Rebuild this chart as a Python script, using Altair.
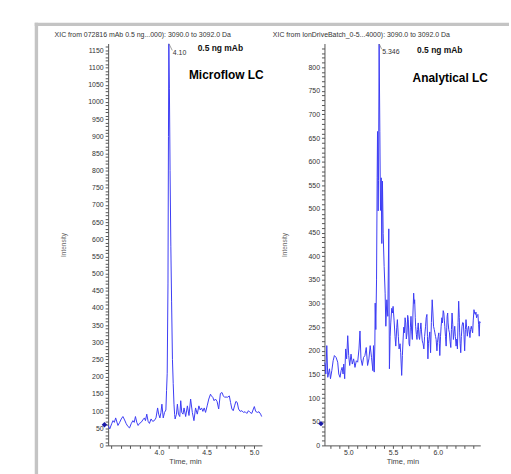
import altair as alt
import pandas as pd

FONT = "Liberation Sans"
LINE = "#3c3cf4"

# ---------------- data ----------------
left_time = [3.466, 3.483, 3.503, 3.517, 3.531, 3.545, 3.569, 3.587, 3.604, 3.621,
             3.639, 3.656, 3.674, 3.691, 3.708, 3.726, 3.740, 3.753, 3.767, 3.781,
             3.795, 3.813, 3.830, 3.847, 3.858, 3.872, 3.886, 3.900, 3.917, 3.934,
             3.951, 3.969, 3.986, 3.997, 4.010, 4.021, 4.031, 4.045, 4.059, 4.073,
             4.080, 4.087, 4.095, 4.100, 4.104, 4.110, 4.117, 4.125, 4.133, 4.142,
             4.150, 4.158, 4.165, 4.170, 4.184, 4.194, 4.205, 4.219, 4.229, 4.240,
             4.253, 4.264, 4.281, 4.299, 4.316, 4.333, 4.351, 4.368, 4.385, 4.403,
             4.420, 4.434, 4.448, 4.462, 4.476, 4.490, 4.507, 4.524, 4.542, 4.552,
             4.566, 4.580, 4.594, 4.611, 4.628, 4.646, 4.663, 4.677, 4.691, 4.705,
             4.719, 4.740, 4.753, 4.767, 4.781, 4.795, 4.809, 4.823, 4.837, 4.854,
             4.872, 4.889, 4.906, 4.924, 4.941, 4.958, 4.976, 4.993, 5.003, 5.017,
             5.035, 5.052, 5.069, 5.080]
left_intensity = [58, 48, 63, 72, 67, 80, 58, 67, 77, 84,
                  74, 63, 55, 51, 63, 72, 67, 84, 67, 58,
                  64, 67, 74, 80, 72, 91, 70, 64, 77, 70,
                  72, 80, 109, 91, 80, 96, 120, 80, 96, 103,
                  160, 210, 470, 900, 1169, 1040, 800, 580, 420, 250,
                  180, 120, 90, 77, 91, 120, 91, 84, 130, 96,
                  91, 109, 84, 115, 87, 135, 96, 72, 109, 91,
                  115, 103, 109, 99, 109, 96, 115, 135, 149, 144,
                  140, 130, 135, 128, 106, 151, 154, 144, 140, 141,
                  140, 144, 125, 106, 101, 115, 128, 125, 106, 99,
                  101, 96, 98, 93, 101, 96, 93, 106, 113, 99,
                  96, 98, 91, 84]

right_time = [4.733, 4.741, 4.748, 4.759, 4.770, 4.789, 4.800, 4.815, 4.830, 4.844,
              4.863, 4.881, 4.893, 4.907, 4.919, 4.930, 4.941, 4.948, 4.959, 4.970,
              4.981, 4.993, 5.004, 5.015, 5.030, 5.044, 5.059, 5.074, 5.089, 5.104,
              5.119, 5.130, 5.141, 5.156, 5.170, 5.185, 5.200, 5.215, 5.230, 5.244,
              5.259, 5.274, 5.281, 5.289, 5.296, 5.300, 5.307, 5.315, 5.322, 5.326,
              5.333, 5.337, 5.344, 5.352, 5.359, 5.367, 5.374, 5.381, 5.389, 5.400,
              5.411, 5.419, 5.430, 5.441, 5.452, 5.459, 5.467, 5.474, 5.485, 5.493,
              5.500, 5.511, 5.522, 5.530, 5.541, 5.548, 5.559, 5.567, 5.578, 5.585,
              5.596, 5.604, 5.611, 5.619, 5.626, 5.634, 5.641, 5.648, 5.656, 5.663,
              5.670, 5.678, 5.685, 5.693, 5.700, 5.708, 5.715, 5.722, 5.730, 5.736,
              5.741, 5.748, 5.752, 5.760, 5.767, 5.774, 5.781, 5.789, 5.796, 5.804,
              5.811, 5.818, 5.826, 5.835, 5.844, 5.852, 5.863, 5.870, 5.878, 5.884,
              5.889, 5.895, 5.900, 5.910, 5.919, 5.928, 5.937, 5.945, 5.952, 5.960,
              5.967, 5.975, 5.981, 5.990, 5.996, 6.004, 6.011, 6.017, 6.022, 6.030,
              6.037, 6.045, 6.052, 6.060, 6.067, 6.073, 6.078, 6.086, 6.093, 6.100,
              6.104, 6.110, 6.115, 6.122, 6.130, 6.137, 6.145, 6.152, 6.159, 6.167,
              6.174, 6.182, 6.189, 6.196, 6.204, 6.212, 6.219, 6.226, 6.233, 6.240,
              6.244, 6.250, 6.256, 6.263, 6.270, 6.278, 6.285, 6.292, 6.300, 6.308,
              6.315, 6.322, 6.330, 6.337, 6.344, 6.352, 6.359, 6.366, 6.374, 6.381,
              6.389, 6.396, 6.404, 6.411, 6.419, 6.426, 6.433, 6.441, 6.448, 6.456,
              6.463, 6.468, 6.474]
right_intensity = [175, 172, 151, 211, 144, 162, 141, 158, 179, 190,
                   186, 176, 151, 144, 158, 165, 151, 172, 141, 204,
                   183, 232, 190, 169, 193, 172, 183, 165, 179, 176,
                   204, 242, 183, 169, 186, 190, 207, 169, 183, 211,
                   186, 158, 211, 155, 210, 301, 245, 350, 566, 664,
                   496, 560, 849, 664, 497, 566, 427, 559, 448, 378,
                   322, 252, 308, 273, 458, 162, 230, 259, 290, 280,
                   294, 265, 230, 210, 250, 266, 230, 204, 215, 196,
                   148, 190, 221, 250, 238, 270, 259, 225, 238, 275,
                   266, 215, 210, 250, 273, 240, 224, 280, 322, 300,
                   308, 270, 252, 235, 224, 245, 259, 230, 224, 245,
                   259, 240, 221, 215, 204, 230, 252, 270, 277, 230,
                   183, 215, 224, 240, 196, 260, 308, 280, 252, 245,
                   238, 230, 224, 200, 218, 230, 238, 215, 190, 230,
                   252, 270, 259, 285, 280, 265, 252, 230, 210, 250,
                   273, 280, 259, 245, 238, 220, 207, 245, 280, 255,
                   224, 240, 252, 230, 210, 225, 204, 260, 305, 270,
                   238, 215, 196, 230, 252, 260, 259, 235, 200, 245,
                   266, 250, 231, 245, 252, 240, 228, 245, 252, 245,
                   238, 265, 287, 280, 277, 282, 270, 275, 277, 255,
                   231, 262, 259]

left_header = "XIC from 072816 mAb 0.5 ng...000): 3090.0 to 3092.0 Da"
right_header = "XIC from IonDriveBatch_0-5...4000): 3090.0 to 3092.0 Da"

left_xticks = [3.5, 3.6, 3.7, 3.8, 3.9, 4.0, 4.1, 4.2, 4.3, 4.4, 4.5, 4.6, 4.7, 4.8, 4.9, 5.0]
left_xlabels = ["4.0", "4.5", "5.0"]
right_xticks = [4.8, 4.9, 5.0, 5.1, 5.2, 5.3, 5.4, 5.5, 5.6, 5.7, 5.8, 5.9, 6.0, 6.1, 6.2, 6.3, 6.4]
right_xlabels = ["5.0", "5.5", "6.0"]
left_yticks = list(range(0, 1170, 10))
right_yticks = list(range(0, 850, 10))

# annotation texts with their positions (time, intensity)
left_ann = {"sub": ("0.5 ng mAb", 4.646, 1158), "big": ("Microflow LC", 4.708, 1077),
            "peak": ("4.10", 4.146, 1143), "marker": (3.427, 60),
            "lead": (4.106, 1169, 4.140, 1150)}
right_ann = {"sub": ("0.5 ng mAb", 6.022, 837), "big": ("Analytical LC", 6.139, 778),
             "peak": ("5.346", 5.378, 833), "marker": (4.694, 46),
             "lead": (5.346, 849, 5.372, 838)}


def panel(times, values, xdom, ydom, xticks, xlabels, yticks, header, hdx, ann, width, frame=False):
    df = pd.DataFrame({"t": times, "v": values})
    lab_arr = "[" + ",".join("'%s'" % s for s in xlabels) + "]"
    xenc = alt.X("t:Q", scale=alt.Scale(domain=xdom, nice=False, zero=False),
                 axis=alt.Axis(values=xticks, title="Time, min",
                               labelExpr="indexof(%s, format(datum.value, '.1f')) >= 0 ? format(datum.value, '.1f') : ''" % lab_arr,
                               labelPadding=0, titlePadding=2, titleFontSize=7.5,
                               titleColor="#444"))
    yenc = alt.Y("v:Q", scale=alt.Scale(domain=ydom, nice=False, zero=True),
                 axis=alt.Axis(values=yticks, format="d", title="Intensity",
                               labelExpr="datum.value % 50 === 0 ? datum.label : ''",
                               labelPadding=2, titlePadding=21, titleFontSize=6.5,
                               titleColor="#666"))
    line = alt.Chart(df).mark_line(color=LINE, strokeWidth=1, clip=False).encode(x=xenc, y=yenc)

    sub = pd.DataFrame({"t": [ann["sub"][1]], "v": [ann["sub"][2]], "txt": [ann["sub"][0]]})
    big = pd.DataFrame({"t": [ann["big"][1]], "v": [ann["big"][2]], "txt": [ann["big"][0]]})
    pk = pd.DataFrame({"t": [ann["peak"][1]], "v": [ann["peak"][2]], "txt": [ann["peak"][0]]})
    mk = pd.DataFrame({"t": [ann["marker"][0]], "v": [ann["marker"][1]]})
    ld = pd.DataFrame({"t": [ann["lead"][0]], "v": [ann["lead"][1]],
                       "t2": [ann["lead"][2]], "v2": [ann["lead"][3]]})
    hd = pd.DataFrame({"txt": [header]})

    t_sub = alt.Chart(sub).mark_text(font=FONT, fontSize=8.5, fontWeight="bold", color="#111",
                                     align="center", baseline="middle").encode(x=xenc, y=yenc, text="txt:N")
    t_big = alt.Chart(big).mark_text(font=FONT, fontSize=12, fontWeight="bold", color="#000",
                                     align="center", baseline="middle").encode(x=xenc, y=yenc, text="txt:N")
    t_pk = alt.Chart(pk).mark_text(font=FONT, fontSize=7, color="#333",
                                   align="left", baseline="middle").encode(x=xenc, y=yenc, text="txt:N")
    lead = alt.Chart(ld).mark_rule(color="#777", strokeWidth=0.7).encode(
        x=xenc, y=yenc, x2="t2:Q", y2="v2:Q")
    t_hd = alt.Chart(hd).mark_text(font=FONT, fontSize=7, color="#333",
                                   align="left", baseline="middle").encode(
        x=alt.value(hdx), y=alt.value(-9), text="txt:N")
    m = alt.Chart(mk).mark_point(shape="diamond", filled=True, size=30, color="#1a1aa8", opacity=1,
                                 clip=False).encode(x=xenc, y=yenc)

    layers = [line, lead, t_sub, t_big, t_pk, t_hd, m]
    if frame:
        top = alt.Chart(hd).mark_rule(color="#c4c4c4", strokeWidth=3.4).encode(
            x=alt.value(-74), x2=alt.value(404), y=alt.value(-19.3))
        left = alt.Chart(hd).mark_rule(color="#c4c4c4", strokeWidth=3.4).encode(
            x=alt.value(-72.3), y=alt.value(-21), y2=alt.value(434))
        layers = [top, left] + layers

    return alt.layer(*layers).properties(width=width, height=405)


left_chart = panel(left_time, left_intensity, [3.466, 5.083], [0, 1170], left_xticks, left_xlabels,
                   left_yticks, left_header, -54, left_ann, 155, frame=True)
right_chart = panel(right_time, right_intensity, [4.733, 6.474], [0, 850], right_xticks, right_xlabels,
                    right_yticks, right_header, -52, right_ann, 157)

chart = alt.hconcat(left_chart, right_chart, spacing=63, bounds="flush").properties(
    padding={"left": 33, "top": 19, "right": 0, "bottom": 0},
    background="white",
).configure_view(stroke=None).configure_axis(
    grid=False, domainColor="#555", domainWidth=1, tickColor="#555", tickSize=3, tickWidth=1,
    labelFont=FONT, titleFont=FONT, labelFontSize=7, labelColor="#333",
    titleFontWeight="normal", labelOverlap=False, labelFlush=False,
)

chart.save("out.html", embed_options={"renderer": "svg", "actions": False})
